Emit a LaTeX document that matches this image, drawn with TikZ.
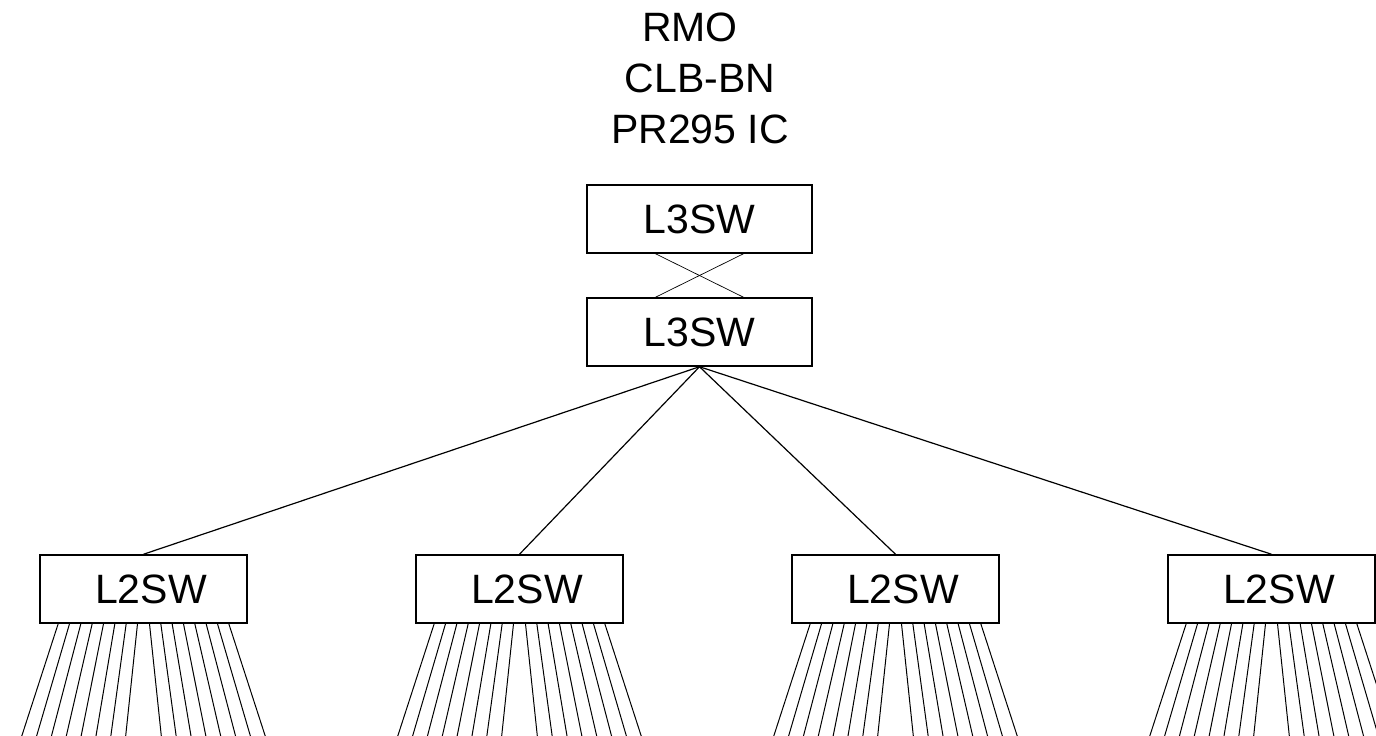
\documentclass[tikz,border=0pt]{standalone}
\usepackage{fontspec}
\setmainfont{Liberation Sans}
\usetikzlibrary{positioning, calc}

\begin{document}
\begin{tikzpicture}[
    x=1pt, y=1pt,
    node distance=43.5pt and 167.5pt,
    switch/.style={draw, line width=1.5pt, minimum height=68pt, inner sep=0pt, font=\fontsize{41}{49}\selectfont},
    heading/.style={font=\fontsize{41}{49}\selectfont, inner sep=0pt, anchor=base},
    uplink/.style={line width=1.2pt},
    cross/.style={line width=0.7pt},
    port/.style={line width=1pt}
]
\useasboundingbox (0,0) rectangle (1376,736);
% site name
\node[heading] (rmo) at (700,694) {RMO\hspace*{20pt}};
\node[heading] (clb) at (700,643) {CLB-BN};
\node[heading] (pr) at (700,592) {PR295 IC};
% core
\node[switch, minimum width=225pt] (l3a) at (699.5,517) {L3SW};
\node[switch, minimum width=225pt, below=of l3a] (l3b) {L3SW};
\draw[cross] ($(l3a.south)+(-44,0)$) -- ($(l3b.north)+(44,0)$);
\draw[cross] ($(l3a.south)+(44,0)$) -- ($(l3b.north)+(-44,0)$);
% access
\node[switch, minimum width=207pt] (l2a) at (143.5,147) {\hspace*{15pt}L2SW};
\node[switch, minimum width=207pt, right=of l2a] (l2b) {\hspace*{15pt}L2SW};
\node[switch, minimum width=207pt, right=of l2b] (l2c) {\hspace*{15pt}L2SW};
\node[switch, minimum width=207pt, right=of l2c] (l2d) {\hspace*{15pt}L2SW};
\foreach \b in {l2a,l2b,l2c,l2d}
    \draw[uplink] (l3b.south) -- (\b.north);
% user ports
\foreach \b in {l2a,l2b,l2c,l2d}
    \foreach \s in {-1,1}
        \foreach \j in {0,...,7}
            \draw[port] ($(\b.south)+({\s*(6+11.33*\j)},0)$) -- ++({\s*(12+3.57*\j)},-114);
\end{tikzpicture}
\end{document}
